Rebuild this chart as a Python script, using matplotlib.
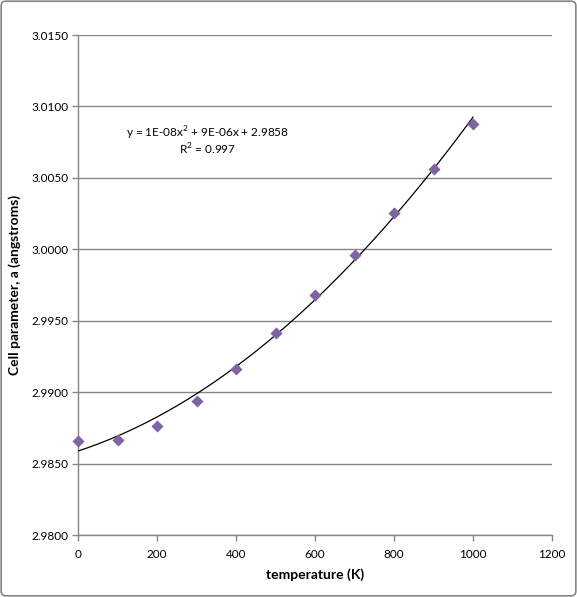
import numpy as np
import matplotlib
matplotlib.use("Agg")
import matplotlib.pyplot as plt
from matplotlib.patches import FancyBboxPatch

temperature = [0, 100, 200, 300, 400, 500, 600, 700, 800, 900, 1000]
cell_param = [2.98661, 2.98668, 2.98764, 2.98941, 2.99165, 2.99417,
              2.99681, 2.99961, 3.00256, 3.00564, 3.00879]
x_ticks = [0, 200, 400, 600, 800, 1000, 1200]
y_ticks = [2.9800, 2.9850, 2.9900, 2.9950, 3.0000, 3.0050, 3.0100, 3.0150]
equation_text = "y = 1E-08x$^2$ + 9E-06x + 2.9858"
r2_text = "R$^2$ = 0.997"

plt.rcParams['font.family'] = ['Lato', 'DejaVu Sans']
plt.rcParams['mathtext.fontset'] = 'custom'
plt.rcParams['mathtext.rm'] = 'Lato'

fig = plt.figure(figsize=(5.77, 5.97), dpi=100)
W, H = 577, 597
ax = fig.add_axes([78 / W, 1 - 535 / H, (552 - 78) / W, (535 - 35) / H])

# outer border
border = FancyBboxPatch((0.002, 0.002), 0.996, 0.996, boxstyle="round,pad=0,rounding_size=0.008",
                        transform=fig.transFigure, fill=False, edgecolor='#868686', linewidth=1.2)
fig.patches.append(border)

grid_col = '#868686'
ax.set_xlim(0, 1200)
ax.set_ylim(2.98, 3.015)
ax.set_xticks(x_ticks)
ax.set_yticks(y_ticks)
ax.set_yticklabels([f"{v:.4f}" for v in y_ticks])
ax.grid(axis='y', color=grid_col, linewidth=1.0)
ax.set_axisbelow(True)
for s in ['top', 'right']:
    ax.spines[s].set_visible(False)
for s in ['left', 'bottom']:
    ax.spines[s].set_color(grid_col)
    ax.spines[s].set_linewidth(1.0)
ax.tick_params(axis='both', direction='out', length=4, color=grid_col, labelsize=8.5, width=1.0)
ax.tick_params(axis='x', pad=6)
ax.tick_params(axis='y', pad=3)

# polynomial trendline
coef = np.polyfit(temperature, cell_param, 2)
xs = np.linspace(0, 1000, 200)
ax.plot(xs, np.polyval(coef, xs), color='black', linewidth=0.9, zorder=3)

ax.scatter(temperature, cell_param, marker='D', s=38, color='#8064A2', zorder=4,
           clip_on=False, linewidths=0)

ax.text(329, 3.0081, equation_text, ha='center', va='center', fontsize=8.5)
ax.text(329, 3.00699, r2_text, ha='center', va='center', fontsize=8.5)

ax.set_xlabel("temperature (K)", fontsize=10, fontweight='bold', labelpad=6)
ax.set_ylabel("Cell parameter, a (angstroms)", fontsize=10, fontweight='bold', labelpad=7)

fig.savefig("out.png", dpi=100)
